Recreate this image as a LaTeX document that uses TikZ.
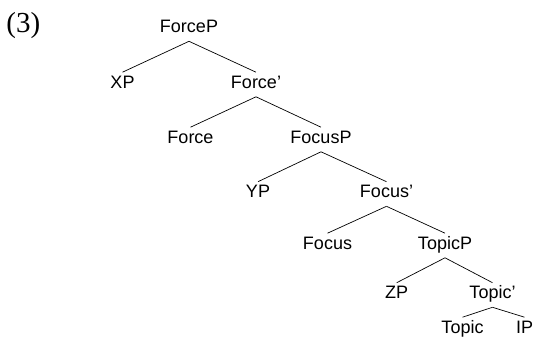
\documentclass[tikz,border=0pt]{standalone}
\usepackage{fontspec}
\setmainfont{Liberation Serif}
\setsansfont{Liberation Sans}

\begin{document}
\begin{tikzpicture}[-,line width=0.7pt,node distance=55pt,cat node/.style={inner xsep=1pt,inner ysep=3pt,text height=12.9pt,text depth=5pt,font=\sffamily\fontsize{18}{20}\selectfont}]

            \useasboundingbox (0,0) rectangle (533pt,-339pt);

            \node[anchor=base west,inner sep=0pt,font=\fontsize{29}{32}\selectfont] (num) at (6pt,-32.7pt) {(3)};

            \node[cat node] (forceP) at (189pt,-29pt) {ForceP};
            \node[cat node] (xp) [below of = forceP, xshift=-66.5, yshift=-0.5]{XP};
            \node[cat node] (forceB) [below of = forceP, xshift=67, yshift=-0.5]{Force'};
            \node[cat node] (force) [below of = forceB, xshift=-65.5]{Force};
            \node[cat node] (focusP) [below of = forceB, xshift=65]{FocusP};
            \node[cat node] (yp) [below of = focusP, xshift=-63, yshift=0.5]{YP};
            \node[cat node] (focusB) [below of = focusP, xshift=65.5, yshift=0.5]{Focus'};
            \node[cat node] (focus) [below of = focusB, xshift=-59, yshift=3.5]{Focus};
            \node[cat node] (topicP) [below of = focusB, xshift=58.5, yshift=3.5]{TopicP};
            \node[cat node] (zp) [below of = topicP, xshift=-48.3, yshift=5.5]{ZP};
            \node[cat node] (topicB) [below of = topicP, xshift=47.5, yshift=5.5]{Topic'};
            \node[cat node] (topic) [below of = topicB, xshift=-30, yshift=20.5]{Topic};
            \node[cat node] (ip) [below of = topicB, xshift=32, yshift=20.5]{IP};

            \path
                (forceP.south) edge (xp.north)
                (forceP.south) edge (forceB.north)
                (forceB.south) edge (force.north)
                (forceB.south) edge (focusP.north)
                (focusP.south) edge (yp.north)
                (focusP.south) edge (focusB.north)
                (focusB.south) edge (focus.north)
                (focusB.south) edge (topicP.north)
                (topicP.south) edge (zp.north)
                (topicP.south) edge (topicB.north)
                (topicB.south) edge (topic.north)
                (topicB.south) edge (ip.north)
            ;
        \end{tikzpicture}
\end{document}
